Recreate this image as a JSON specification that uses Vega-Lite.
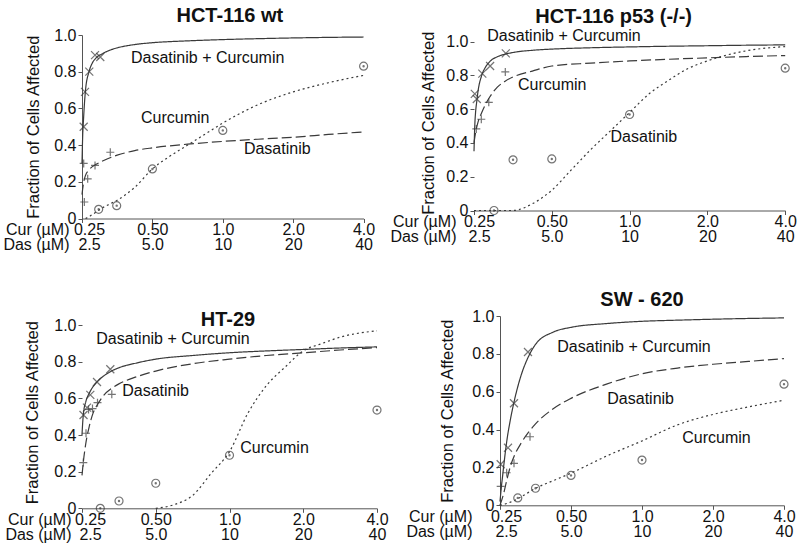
{
  "$schema": "https://vega.github.io/schema/vega-lite/v6.json",
  "background": "white",
  "padding": {"left": 2, "top": 6, "right": 0, "bottom": 0},
  "config": {
    "view": {"stroke": null},
    "font": "Liberation Sans",
    "title": {"font": "Liberation Sans", "fontSize": 20, "fontWeight": "bold", "color": "#111", "anchor": "middle", "baseline": "alphabetic"},
    "axis": {
      "grid": false, "domainColor": "#555", "tickColor": "#555", "tickSize": 4,
      "labelFont": "Liberation Sans", "labelFontSize": 16, "labelColor": "#111",
      "titleFont": "Liberation Sans", "titleFontSize": 16, "titleFontWeight": "normal", "titleColor": "#111",
      "labelOverlap": false, "labelFlush": false
    },
    "axisX": {"labelLineHeight": 15, "titleLineHeight": 15, "labelPadding": -1},
    "axisY": {"tickCount": 10, "labelPadding": 2, "titleFontSize": 16.5},
    "text": {"font": "Liberation Sans", "fontSize": 16, "color": "#111"}
  },
  "datasets": {
    "wt_curves": [
      {"series": "Dasatinib+Curcumin", "cur": 0.25, "fa": 0.30},
      {"series": "Dasatinib+Curcumin", "cur": 0.2517, "fa": 0.45},
      {"series": "Dasatinib+Curcumin", "cur": 0.2535, "fa": 0.53},
      {"series": "Dasatinib+Curcumin", "cur": 0.2562, "fa": 0.63},
      {"series": "Dasatinib+Curcumin", "cur": 0.2588, "fa": 0.70},
      {"series": "Dasatinib+Curcumin", "cur": 0.2679, "fa": 0.80},
      {"series": "Dasatinib+Curcumin", "cur": 0.2774, "fa": 0.85},
      {"series": "Dasatinib+Curcumin", "cur": 0.2872, "fa": 0.875},
      {"series": "Dasatinib+Curcumin", "cur": 0.3078, "fa": 0.90},
      {"series": "Dasatinib+Curcumin", "cur": 0.3299, "fa": 0.918},
      {"series": "Dasatinib+Curcumin", "cur": 0.3536, "fa": 0.93},
      {"series": "Dasatinib+Curcumin", "cur": 0.4204, "fa": 0.948},
      {"series": "Dasatinib+Curcumin", "cur": 0.5, "fa": 0.958},
      {"series": "Dasatinib+Curcumin", "cur": 0.7071, "fa": 0.968},
      {"series": "Dasatinib+Curcumin", "cur": 1, "fa": 0.975},
      {"series": "Dasatinib+Curcumin", "cur": 1.4142, "fa": 0.98},
      {"series": "Dasatinib+Curcumin", "cur": 2, "fa": 0.984},
      {"series": "Dasatinib+Curcumin", "cur": 2.8284, "fa": 0.987},
      {"series": "Dasatinib+Curcumin", "cur": 4, "fa": 0.989},
      {"series": "Dasatinib", "cur": 0.25, "fa": 0.13},
      {"series": "Dasatinib", "cur": 0.2535, "fa": 0.19},
      {"series": "Dasatinib", "cur": 0.2588, "fa": 0.235},
      {"series": "Dasatinib", "cur": 0.2679, "fa": 0.265},
      {"series": "Dasatinib", "cur": 0.2872, "fa": 0.295},
      {"series": "Dasatinib", "cur": 0.3078, "fa": 0.315},
      {"series": "Dasatinib", "cur": 0.3536, "fa": 0.345},
      {"series": "Dasatinib", "cur": 0.4204, "fa": 0.37},
      {"series": "Dasatinib", "cur": 0.5, "fa": 0.385},
      {"series": "Dasatinib", "cur": 0.7071, "fa": 0.405},
      {"series": "Dasatinib", "cur": 1, "fa": 0.42},
      {"series": "Dasatinib", "cur": 1.4142, "fa": 0.432},
      {"series": "Dasatinib", "cur": 2, "fa": 0.443},
      {"series": "Dasatinib", "cur": 2.8284, "fa": 0.458},
      {"series": "Dasatinib", "cur": 4, "fa": 0.472},
      {"series": "Curcumin", "cur": 0.2588, "fa": 0},
      {"series": "Curcumin", "cur": 0.2679, "fa": 0.01},
      {"series": "Curcumin", "cur": 0.2872, "fa": 0.035},
      {"series": "Curcumin", "cur": 0.3078, "fa": 0.06},
      {"series": "Curcumin", "cur": 0.3299, "fa": 0.08},
      {"series": "Curcumin", "cur": 0.3536, "fa": 0.10},
      {"series": "Curcumin", "cur": 0.4204, "fa": 0.17},
      {"series": "Curcumin", "cur": 0.5, "fa": 0.27},
      {"series": "Curcumin", "cur": 0.5946, "fa": 0.34},
      {"series": "Curcumin", "cur": 0.7071, "fa": 0.40},
      {"series": "Curcumin", "cur": 0.8409, "fa": 0.46},
      {"series": "Curcumin", "cur": 1, "fa": 0.52},
      {"series": "Curcumin", "cur": 1.4142, "fa": 0.62},
      {"series": "Curcumin", "cur": 2, "fa": 0.69},
      {"series": "Curcumin", "cur": 2.8284, "fa": 0.74},
      {"series": "Curcumin", "cur": 4, "fa": 0.78}
    ],
    "wt_points": [
      {"series": "Dasatinib+Curcumin", "cur": 0.2542, "fa": 0.50},
      {"series": "Dasatinib+Curcumin", "cur": 0.2575, "fa": 0.69},
      {"series": "Dasatinib+Curcumin", "cur": 0.2686, "fa": 0.80},
      {"series": "Dasatinib+Curcumin", "cur": 0.2842, "fa": 0.89},
      {"series": "Dasatinib+Curcumin", "cur": 0.2993, "fa": 0.88},
      {"series": "Dasatinib", "cur": 0.2542, "fa": 0.30},
      {"series": "Dasatinib", "cur": 0.2558, "fa": 0.09},
      {"series": "Dasatinib", "cur": 0.2644, "fa": 0.216},
      {"series": "Dasatinib", "cur": 0.2842, "fa": 0.289},
      {"series": "Dasatinib", "cur": 0.3303, "fa": 0.361},
      {"series": "Curcumin", "cur": 0.2946, "fa": 0.05},
      {"series": "Curcumin", "cur": 0.3518, "fa": 0.07},
      {"series": "Curcumin", "cur": 0.5, "fa": 0.27},
      {"series": "Curcumin", "cur": 1, "fa": 0.48},
      {"series": "Curcumin", "cur": 4, "fa": 0.83}
    ],
    "wt_labels": [
      {"text": "Dasatinib + Curcumin", "cur": 0.405, "fa": 0.877},
      {"text": "Curcumin", "cur": 0.447, "fa": 0.55},
      {"text": "Dasatinib", "cur": 1.231, "fa": 0.381}
    ],
    "p53_curves": [
      {"series": "Dasatinib+Curcumin", "cur": 0.25, "fa": 0.35},
      {"series": "Dasatinib+Curcumin", "cur": 0.2517, "fa": 0.5},
      {"series": "Dasatinib+Curcumin", "cur": 0.2535, "fa": 0.58},
      {"series": "Dasatinib+Curcumin", "cur": 0.2562, "fa": 0.645},
      {"series": "Dasatinib+Curcumin", "cur": 0.2588, "fa": 0.70},
      {"series": "Dasatinib+Curcumin", "cur": 0.2679, "fa": 0.80},
      {"series": "Dasatinib+Curcumin", "cur": 0.2774, "fa": 0.85},
      {"series": "Dasatinib+Curcumin", "cur": 0.2872, "fa": 0.88},
      {"series": "Dasatinib+Curcumin", "cur": 0.3078, "fa": 0.91},
      {"series": "Dasatinib+Curcumin", "cur": 0.3299, "fa": 0.925},
      {"series": "Dasatinib+Curcumin", "cur": 0.3536, "fa": 0.935},
      {"series": "Dasatinib+Curcumin", "cur": 0.4204, "fa": 0.948},
      {"series": "Dasatinib+Curcumin", "cur": 0.5, "fa": 0.955},
      {"series": "Dasatinib+Curcumin", "cur": 0.7071, "fa": 0.963},
      {"series": "Dasatinib+Curcumin", "cur": 1, "fa": 0.968},
      {"series": "Dasatinib+Curcumin", "cur": 1.4142, "fa": 0.972},
      {"series": "Dasatinib+Curcumin", "cur": 2, "fa": 0.975},
      {"series": "Dasatinib+Curcumin", "cur": 2.8284, "fa": 0.978},
      {"series": "Dasatinib+Curcumin", "cur": 4, "fa": 0.98},
      {"series": "Curcumin", "cur": 0.25, "fa": 0.40},
      {"series": "Curcumin", "cur": 0.2535, "fa": 0.46},
      {"series": "Curcumin", "cur": 0.2588, "fa": 0.52},
      {"series": "Curcumin", "cur": 0.2679, "fa": 0.58},
      {"series": "Curcumin", "cur": 0.2774, "fa": 0.63},
      {"series": "Curcumin", "cur": 0.2872, "fa": 0.67},
      {"series": "Curcumin", "cur": 0.3078, "fa": 0.73},
      {"series": "Curcumin", "cur": 0.3299, "fa": 0.765},
      {"series": "Curcumin", "cur": 0.3536, "fa": 0.79},
      {"series": "Curcumin", "cur": 0.4204, "fa": 0.825},
      {"series": "Curcumin", "cur": 0.5, "fa": 0.855},
      {"series": "Curcumin", "cur": 0.7071, "fa": 0.872},
      {"series": "Curcumin", "cur": 1, "fa": 0.885},
      {"series": "Curcumin", "cur": 1.4142, "fa": 0.895},
      {"series": "Curcumin", "cur": 2, "fa": 0.903},
      {"series": "Curcumin", "cur": 2.8284, "fa": 0.911},
      {"series": "Curcumin", "cur": 4, "fa": 0.917},
      {"series": "Dasatinib", "cur": 0.25, "fa": 0},
      {"series": "Dasatinib", "cur": 0.3536, "fa": 0},
      {"series": "Dasatinib", "cur": 0.4204, "fa": 0.04},
      {"series": "Dasatinib", "cur": 0.5, "fa": 0.12},
      {"series": "Dasatinib", "cur": 0.5946, "fa": 0.24},
      {"series": "Dasatinib", "cur": 0.7071, "fa": 0.36},
      {"series": "Dasatinib", "cur": 0.8409, "fa": 0.47},
      {"series": "Dasatinib", "cur": 1, "fa": 0.58},
      {"series": "Dasatinib", "cur": 1.1892, "fa": 0.69},
      {"series": "Dasatinib", "cur": 1.4142, "fa": 0.77},
      {"series": "Dasatinib", "cur": 1.6818, "fa": 0.84},
      {"series": "Dasatinib", "cur": 2, "fa": 0.885},
      {"series": "Dasatinib", "cur": 2.3784, "fa": 0.92},
      {"series": "Dasatinib", "cur": 2.8284, "fa": 0.945},
      {"series": "Dasatinib", "cur": 4, "fa": 0.97}
    ],
    "p53_points": [
      {"series": "Dasatinib+Curcumin", "cur": 0.2518, "fa": 0.69},
      {"series": "Dasatinib+Curcumin", "cur": 0.2563, "fa": 0.66},
      {"series": "Dasatinib+Curcumin", "cur": 0.2692, "fa": 0.81},
      {"series": "Dasatinib+Curcumin", "cur": 0.2886, "fa": 0.855},
      {"series": "Dasatinib+Curcumin", "cur": 0.3319, "fa": 0.93},
      {"series": "Curcumin", "cur": 0.2552, "fa": 0.483},
      {"series": "Curcumin", "cur": 0.2668, "fa": 0.54},
      {"series": "Curcumin", "cur": 0.2852, "fa": 0.64},
      {"series": "Curcumin", "cur": 0.3304, "fa": 0.82},
      {"series": "Dasatinib", "cur": 0.2988, "fa": 0.0},
      {"series": "Dasatinib", "cur": 0.354, "fa": 0.30},
      {"series": "Dasatinib", "cur": 0.5, "fa": 0.305},
      {"series": "Dasatinib", "cur": 1, "fa": 0.568},
      {"series": "Dasatinib", "cur": 4, "fa": 0.842}
    ],
    "p53_labels": [
      {"text": "Dasatinib + Curcumin", "cur": 0.2815, "fa": 1.035},
      {"text": "Curcumin", "cur": 0.370, "fa": 0.74},
      {"text": "Dasatinib", "cur": 0.844, "fa": 0.434}
    ],
    "ht29_curves": [
      {"series": "Dasatinib+Curcumin", "cur": 0.25, "fa": 0.40},
      {"series": "Dasatinib+Curcumin", "cur": 0.2517, "fa": 0.47},
      {"series": "Dasatinib+Curcumin", "cur": 0.2535, "fa": 0.52},
      {"series": "Dasatinib+Curcumin", "cur": 0.2588, "fa": 0.58},
      {"series": "Dasatinib+Curcumin", "cur": 0.2679, "fa": 0.63},
      {"series": "Dasatinib+Curcumin", "cur": 0.2774, "fa": 0.665},
      {"series": "Dasatinib+Curcumin", "cur": 0.2872, "fa": 0.69},
      {"series": "Dasatinib+Curcumin", "cur": 0.3078, "fa": 0.725},
      {"series": "Dasatinib+Curcumin", "cur": 0.3299, "fa": 0.75},
      {"series": "Dasatinib+Curcumin", "cur": 0.3536, "fa": 0.768},
      {"series": "Dasatinib+Curcumin", "cur": 0.4204, "fa": 0.795},
      {"series": "Dasatinib+Curcumin", "cur": 0.5, "fa": 0.815},
      {"series": "Dasatinib+Curcumin", "cur": 0.7071, "fa": 0.835},
      {"series": "Dasatinib+Curcumin", "cur": 1, "fa": 0.85},
      {"series": "Dasatinib+Curcumin", "cur": 1.4142, "fa": 0.86},
      {"series": "Dasatinib+Curcumin", "cur": 2, "fa": 0.868},
      {"series": "Dasatinib+Curcumin", "cur": 2.8284, "fa": 0.876},
      {"series": "Dasatinib+Curcumin", "cur": 4, "fa": 0.882},
      {"series": "Dasatinib", "cur": 0.25, "fa": 0.18},
      {"series": "Dasatinib", "cur": 0.2535, "fa": 0.26},
      {"series": "Dasatinib", "cur": 0.2588, "fa": 0.35},
      {"series": "Dasatinib", "cur": 0.2679, "fa": 0.45},
      {"series": "Dasatinib", "cur": 0.2774, "fa": 0.52},
      {"series": "Dasatinib", "cur": 0.2872, "fa": 0.56},
      {"series": "Dasatinib", "cur": 0.3078, "fa": 0.62},
      {"series": "Dasatinib", "cur": 0.3299, "fa": 0.655},
      {"series": "Dasatinib", "cur": 0.3536, "fa": 0.68},
      {"series": "Dasatinib", "cur": 0.4204, "fa": 0.72},
      {"series": "Dasatinib", "cur": 0.5, "fa": 0.75},
      {"series": "Dasatinib", "cur": 0.7071, "fa": 0.79},
      {"series": "Dasatinib", "cur": 1, "fa": 0.815},
      {"series": "Dasatinib", "cur": 1.4142, "fa": 0.835},
      {"series": "Dasatinib", "cur": 2, "fa": 0.85},
      {"series": "Dasatinib", "cur": 2.8284, "fa": 0.865},
      {"series": "Dasatinib", "cur": 4, "fa": 0.878},
      {"series": "Curcumin", "cur": 0.5, "fa": 0},
      {"series": "Curcumin", "cur": 0.5946, "fa": 0.02},
      {"series": "Curcumin", "cur": 0.7071, "fa": 0.07},
      {"series": "Curcumin", "cur": 0.8409, "fa": 0.19},
      {"series": "Curcumin", "cur": 1, "fa": 0.31},
      {"series": "Curcumin", "cur": 1.1892, "fa": 0.52},
      {"series": "Curcumin", "cur": 1.4142, "fa": 0.67},
      {"series": "Curcumin", "cur": 1.6818, "fa": 0.77},
      {"series": "Curcumin", "cur": 2, "fa": 0.86},
      {"series": "Curcumin", "cur": 2.3784, "fa": 0.90},
      {"series": "Curcumin", "cur": 2.8284, "fa": 0.935},
      {"series": "Curcumin", "cur": 4, "fa": 0.97}
    ],
    "ht29_points": [
      {"series": "Dasatinib+Curcumin", "cur": 0.2536, "fa": 0.51},
      {"series": "Dasatinib+Curcumin", "cur": 0.262, "fa": 0.55},
      {"series": "Dasatinib+Curcumin", "cur": 0.2703, "fa": 0.62},
      {"series": "Dasatinib+Curcumin", "cur": 0.2879, "fa": 0.69},
      {"series": "Dasatinib+Curcumin", "cur": 0.3262, "fa": 0.76},
      {"series": "Dasatinib", "cur": 0.2531, "fa": 0.25},
      {"series": "Dasatinib", "cur": 0.2596, "fa": 0.41},
      {"series": "Dasatinib", "cur": 0.2658, "fa": 0.54},
      {"series": "Dasatinib", "cur": 0.2759, "fa": 0.545},
      {"series": "Dasatinib", "cur": 0.2892, "fa": 0.577},
      {"series": "Dasatinib", "cur": 0.3308, "fa": 0.623},
      {"series": "Curcumin", "cur": 0.2969, "fa": 0.0},
      {"series": "Curcumin", "cur": 0.354, "fa": 0.04},
      {"series": "Curcumin", "cur": 0.5, "fa": 0.137},
      {"series": "Curcumin", "cur": 1, "fa": 0.29},
      {"series": "Curcumin", "cur": 4, "fa": 0.537}
    ],
    "ht29_labels": [
      {"text": "Dasatinib + Curcumin", "cur": 0.286, "fa": 0.923},
      {"text": "Dasatinib", "cur": 0.365, "fa": 0.641},
      {"text": "Curcumin", "cur": 1.107, "fa": 0.331}
    ],
    "sw_curves": [
      {"series": "Dasatinib+Curcumin", "cur": 0.25, "fa": 0.02},
      {"series": "Dasatinib+Curcumin", "cur": 0.2517, "fa": 0.06},
      {"series": "Dasatinib+Curcumin", "cur": 0.2535, "fa": 0.10},
      {"series": "Dasatinib+Curcumin", "cur": 0.2562, "fa": 0.15},
      {"series": "Dasatinib+Curcumin", "cur": 0.2588, "fa": 0.20},
      {"series": "Dasatinib+Curcumin", "cur": 0.2679, "fa": 0.35},
      {"series": "Dasatinib+Curcumin", "cur": 0.2774, "fa": 0.46},
      {"series": "Dasatinib+Curcumin", "cur": 0.2872, "fa": 0.55},
      {"series": "Dasatinib+Curcumin", "cur": 0.3078, "fa": 0.69},
      {"series": "Dasatinib+Curcumin", "cur": 0.3299, "fa": 0.785},
      {"series": "Dasatinib+Curcumin", "cur": 0.3536, "fa": 0.85},
      {"series": "Dasatinib+Curcumin", "cur": 0.4204, "fa": 0.915},
      {"series": "Dasatinib+Curcumin", "cur": 0.5, "fa": 0.94},
      {"series": "Dasatinib+Curcumin", "cur": 0.7071, "fa": 0.96},
      {"series": "Dasatinib+Curcumin", "cur": 1, "fa": 0.972},
      {"series": "Dasatinib+Curcumin", "cur": 1.4142, "fa": 0.978},
      {"series": "Dasatinib+Curcumin", "cur": 2, "fa": 0.983},
      {"series": "Dasatinib+Curcumin", "cur": 2.8284, "fa": 0.987},
      {"series": "Dasatinib+Curcumin", "cur": 4, "fa": 0.99},
      {"series": "Dasatinib", "cur": 0.25, "fa": 0},
      {"series": "Dasatinib", "cur": 0.2588, "fa": 0.06},
      {"series": "Dasatinib", "cur": 0.2679, "fa": 0.14},
      {"series": "Dasatinib", "cur": 0.2774, "fa": 0.21},
      {"series": "Dasatinib", "cur": 0.2872, "fa": 0.26},
      {"series": "Dasatinib", "cur": 0.3078, "fa": 0.33},
      {"series": "Dasatinib", "cur": 0.3299, "fa": 0.385},
      {"series": "Dasatinib", "cur": 0.3536, "fa": 0.43},
      {"series": "Dasatinib", "cur": 0.4204, "fa": 0.51},
      {"series": "Dasatinib", "cur": 0.5, "fa": 0.565},
      {"series": "Dasatinib", "cur": 0.7071, "fa": 0.64},
      {"series": "Dasatinib", "cur": 1, "fa": 0.695},
      {"series": "Dasatinib", "cur": 1.4142, "fa": 0.725},
      {"series": "Dasatinib", "cur": 2, "fa": 0.745},
      {"series": "Dasatinib", "cur": 2.8284, "fa": 0.76},
      {"series": "Dasatinib", "cur": 4, "fa": 0.775},
      {"series": "Curcumin", "cur": 0.25, "fa": 0},
      {"series": "Curcumin", "cur": 0.2679, "fa": 0.01},
      {"series": "Curcumin", "cur": 0.2872, "fa": 0.025},
      {"series": "Curcumin", "cur": 0.3078, "fa": 0.045},
      {"series": "Curcumin", "cur": 0.3536, "fa": 0.09},
      {"series": "Curcumin", "cur": 0.4204, "fa": 0.13},
      {"series": "Curcumin", "cur": 0.5, "fa": 0.17},
      {"series": "Curcumin", "cur": 0.7071, "fa": 0.26},
      {"series": "Curcumin", "cur": 1, "fa": 0.34},
      {"series": "Curcumin", "cur": 1.4142, "fa": 0.425},
      {"series": "Curcumin", "cur": 2, "fa": 0.48},
      {"series": "Curcumin", "cur": 2.8284, "fa": 0.52},
      {"series": "Curcumin", "cur": 4, "fa": 0.555}
    ],
    "sw_points": [
      {"series": "Dasatinib+Curcumin", "cur": 0.2517, "fa": 0.217},
      {"series": "Dasatinib+Curcumin", "cur": 0.2703, "fa": 0.304},
      {"series": "Dasatinib+Curcumin", "cur": 0.2866, "fa": 0.539},
      {"series": "Dasatinib+Curcumin", "cur": 0.3285, "fa": 0.81},
      {"series": "Dasatinib", "cur": 0.2517, "fa": 0.10},
      {"series": "Dasatinib", "cur": 0.2668, "fa": 0.172},
      {"series": "Dasatinib", "cur": 0.2866, "fa": 0.222},
      {"series": "Dasatinib", "cur": 0.3351, "fa": 0.362},
      {"series": "Curcumin", "cur": 0.2973, "fa": 0.039},
      {"series": "Curcumin", "cur": 0.3536, "fa": 0.09},
      {"series": "Curcumin", "cur": 0.5, "fa": 0.158},
      {"series": "Curcumin", "cur": 1, "fa": 0.239},
      {"series": "Curcumin", "cur": 4, "fa": 0.64}
    ],
    "sw_labels": [
      {"text": "Dasatinib + Curcumin", "cur": 0.4374, "fa": 0.836},
      {"text": "Dasatinib", "cur": 0.7127, "fa": 0.56},
      {"text": "Curcumin", "cur": 1.482, "fa": 0.354}
    ]
  },
  "spacing": 36,
  "resolve": {"scale": {"strokeDash": "independent", "shape": "independent"}},
  "vconcat": [
    {
      "spacing": 14,
      "resolve": {"scale": {"strokeDash": "independent", "shape": "independent"}},
      "hconcat": [
        {
          "width": 281.6, "height": 183.5,
          "title": {"text": "HCT-116 wt", "offset": 0.8, "dx": 7},
          "layer": [
            {
              "data": {"name": "wt_curves"},
              "mark": {"type": "line", "interpolate": "monotone", "color": "#3a3a3a", "strokeWidth": 1.2},
              "encoding": {
                "x": {"field": "cur", "type": "quantitative", "scale": {"type": "log", "base": 2, "domain": [0.25, 4], "nice": false},
                  "axis": {"values": [0.25, 0.5, 1, 2, 4], "labelExpr": "[datum.value == 0.25 ? '0.25' : datum.value == 0.5 ? '0.50' : format(datum.value, '.1f'), datum.value < 1 ? format(datum.value * 10, '.1f') : format(datum.value * 10, 'd')]",
                    "labelOffset": {"condition": {"test": "datum.value == 0.25", "value": 7}, "value": 0},
                    "title": ["Cur (µM)", "Das (µM)"], "titleX": -13, "titleY": 3, "titleAlign": "right", "titleBaseline": "top"}},
                "y": {"field": "fa", "type": "quantitative", "scale": {"domain": [0, 1], "nice": false},
                  "axis": {"values": [0, 0.2, 0.4, 0.6, 0.8, 1], "labelExpr": "datum.value == 0 ? '0' : format(datum.value, '.1f')", "title": "Fraction of Cells Affected", "titlePadding": 12}},
                "strokeDash": {"field": "series", "scale": {"domain": ["Dasatinib+Curcumin", "Dasatinib", "Curcumin"], "range": [[1, 0], [10, 4], [2, 3]]}, "legend": null}
              }
            },
            {
              "data": {"name": "wt_points"},
              "mark": {"type": "point", "filled": false, "color": "#3a3a3a", "size": 64, "strokeWidth": 1.2},
              "encoding": {
                "x": {"field": "cur", "type": "quantitative"},
                "y": {"field": "fa", "type": "quantitative"},
                "shape": {"field": "series", "scale": {"domain": ["Dasatinib+Curcumin", "Dasatinib", "Curcumin"], "range": ["M-1,-1L1,1M-1,1L1,-1", "M-1,0L1,0M0,-1L0,1", "M-1,0A1,1,0,1,0,1,0A1,1,0,1,0,-1,0ZM-0.15,0A0.15,0.15,0,1,0,0.15,0A0.15,0.15,0,1,0,-0.15,0Z"]}, "legend": null}
              }
            },
            {
              "data": {"name": "wt_labels"},
              "mark": {"type": "text", "align": "left", "baseline": "middle"},
              "encoding": {"x": {"field": "cur", "type": "quantitative"}, "y": {"field": "fa", "type": "quantitative"}, "text": {"field": "text"}}
            }
          ]
        },
        {
          "width": 311.2, "height": 175.5,
          "title": {"text": "HCT-116 p53 (-/-)", "offset": 0.2, "dx": -16},
          "layer": [
            {
              "data": {"name": "p53_curves"},
              "mark": {"type": "line", "interpolate": "monotone", "color": "#3a3a3a", "strokeWidth": 1.2},
              "encoding": {
                "x": {"field": "cur", "type": "quantitative", "scale": {"type": "log", "base": 2, "domain": [0.25, 4], "nice": false},
                  "axis": {"values": [0.25, 0.5, 1, 2, 4], "labelExpr": "[datum.value == 0.25 ? '0.25' : datum.value == 0.5 ? '0.50' : format(datum.value, '.1f'), datum.value < 1 ? format(datum.value * 10, '.1f') : format(datum.value * 10, 'd')]",
                    "labelOffset": {"condition": {"test": "datum.value == 0.25", "value": 5}, "value": 0},
                    "title": ["Cur (µM)", "Das (µM)"], "titleX": -18, "titleY": 3, "titleAlign": "right", "titleBaseline": "top"}},
                "y": {"field": "fa", "type": "quantitative", "scale": {"domain": [0, 1.0385], "nice": false},
                  "axis": {"values": [0, 0.2, 0.4, 0.6, 0.8, 1], "domain": false, "labelExpr": "datum.value == 0 ? '0' : format(datum.value, '.1f')", "title": "Fraction of Cells Affected", "titlePadding": 9}},
                "strokeDash": {"field": "series", "scale": {"domain": ["Dasatinib+Curcumin", "Curcumin", "Dasatinib"], "range": [[1, 0], [10, 4], [2, 3]]}, "legend": null}
              }
            },
            {
              "mark": {"type": "rule", "color": "#555", "strokeWidth": 1},
              "encoding": {"x": {"datum": 0.25}, "y": {"datum": 0}, "y2": {"datum": 1}}
            },
            {
              "data": {"name": "p53_points"},
              "mark": {"type": "point", "filled": false, "color": "#3a3a3a", "size": 64, "strokeWidth": 1.2},
              "encoding": {
                "x": {"field": "cur", "type": "quantitative"},
                "y": {"field": "fa", "type": "quantitative"},
                "shape": {"field": "series", "scale": {"domain": ["Dasatinib+Curcumin", "Curcumin", "Dasatinib"], "range": ["M-1,-1L1,1M-1,1L1,-1", "M-1,0L1,0M0,-1L0,1", "M-1,0A1,1,0,1,0,1,0A1,1,0,1,0,-1,0ZM-0.15,0A0.15,0.15,0,1,0,0.15,0A0.15,0.15,0,1,0,-0.15,0Z"]}, "legend": null}
              }
            },
            {
              "data": {"name": "p53_labels"},
              "mark": {"type": "text", "align": "left", "baseline": "middle"},
              "encoding": {"x": {"field": "cur", "type": "quantitative"}, "y": {"field": "fa", "type": "quantitative"}, "text": {"field": "text"}}
            }
          ]
        }
      ]
    },
    {
      "spacing": 16,
      "resolve": {"scale": {"strokeDash": "independent", "shape": "independent"}},
      "hconcat": [
        {
          "width": 295, "height": 192.3,
          "layer": [
            {
              "data": {"name": "ht29_curves"},
              "mark": {"type": "line", "interpolate": "monotone", "color": "#3a3a3a", "strokeWidth": 1.2},
              "encoding": {
                "x": {"field": "cur", "type": "quantitative", "scale": {"type": "log", "base": 2, "domain": [0.25, 4], "nice": false},
                  "axis": {"values": [0.25, 0.5, 1, 2, 4], "labelExpr": "[datum.value == 0.25 ? '0.25' : datum.value == 0.5 ? '0.50' : format(datum.value, '.1f'), datum.value < 1 ? format(datum.value * 10, '.1f') : format(datum.value * 10, 'd')]",
                    "labelOffset": {"condition": {"test": "datum.value == 0.25", "value": 8}, "value": 0},
                    "title": ["Cur (µM)", "Das (µM)"], "titleX": -11, "titleY": 3, "titleAlign": "right", "titleBaseline": "top"}},
                "y": {"field": "fa", "type": "quantitative", "scale": {"domain": [0, 1.0508], "nice": false},
                  "axis": {"values": [0, 0.2, 0.4, 0.6, 0.8, 1], "domain": false, "labelExpr": "datum.value == 0 ? '0' : format(datum.value, '.1f')", "title": "Fraction of Cells Affected", "titlePadding": 13}},
                "strokeDash": {"field": "series", "scale": {"domain": ["Dasatinib+Curcumin", "Dasatinib", "Curcumin"], "range": [[1, 0], [10, 4], [2, 3]]}, "legend": null}
              }
            },
            {
              "mark": {"type": "rule", "color": "#555", "strokeWidth": 1},
              "encoding": {"x": {"datum": 0.25}, "y": {"datum": 0}, "y2": {"datum": 1}}
            },
            {
              "data": {"name": "ht29_points"},
              "mark": {"type": "point", "filled": false, "color": "#3a3a3a", "size": 64, "strokeWidth": 1.2},
              "encoding": {
                "x": {"field": "cur", "type": "quantitative"},
                "y": {"field": "fa", "type": "quantitative"},
                "shape": {"field": "series", "scale": {"domain": ["Dasatinib+Curcumin", "Dasatinib", "Curcumin"], "range": ["M-1,-1L1,1M-1,1L1,-1", "M-1,0L1,0M0,-1L0,1", "M-1,0A1,1,0,1,0,1,0A1,1,0,1,0,-1,0ZM-0.15,0A0.15,0.15,0,1,0,0.15,0A0.15,0.15,0,1,0,-0.15,0Z"]}, "legend": null}
              }
            },
            {
              "data": {"name": "ht29_labels"},
              "mark": {"type": "text", "align": "left", "baseline": "middle"},
              "encoding": {"x": {"field": "cur", "type": "quantitative"}, "y": {"field": "fa", "type": "quantitative"}, "text": {"field": "text"}}
            },
            {
              "data": {"values": [{"text": "HT-29", "cur": 0.986, "fa": 0.996}]},
              "mark": {"type": "text", "align": "center", "baseline": "alphabetic", "fontSize": 20, "fontWeight": "bold"},
              "encoding": {"x": {"field": "cur", "type": "quantitative"}, "y": {"field": "fa", "type": "quantitative"}, "text": {"field": "text"}}
            }
          ]
        },
        {
          "width": 284, "height": 189.3,
          "title": {"text": "SW - 620", "offset": -1.7, "dx": 0},
          "layer": [
            {
              "data": {"name": "sw_curves"},
              "mark": {"type": "line", "interpolate": "monotone", "color": "#3a3a3a", "strokeWidth": 1.2},
              "encoding": {
                "x": {"field": "cur", "type": "quantitative", "scale": {"type": "log", "base": 2, "domain": [0.25, 4], "nice": false},
                  "axis": {"values": [0.25, 0.5, 1, 2, 4], "labelExpr": "[datum.value == 0.25 ? '0.25' : datum.value == 0.5 ? '0.50' : format(datum.value, '.1f'), datum.value < 1 ? format(datum.value * 10, '.1f') : format(datum.value * 10, 'd')]",
                    "labelOffset": {"condition": {"test": "datum.value == 0.25", "value": 6}, "value": 0},
                    "title": ["Cur (µM)", "Das (µM)"], "titleX": -28, "titleY": 3, "titleAlign": "right", "titleBaseline": "top"}},
                "y": {"field": "fa", "type": "quantitative", "scale": {"domain": [0, 1], "nice": false},
                  "axis": {"values": [0, 0.2, 0.4, 0.6, 0.8, 1], "labelExpr": "datum.value == 0 ? '0' : format(datum.value, '.1f')", "title": "Fraction of Cells Affected", "titlePadding": 16}},
                "strokeDash": {"field": "series", "scale": {"domain": ["Dasatinib+Curcumin", "Dasatinib", "Curcumin"], "range": [[1, 0], [10, 4], [2, 3]]}, "legend": null}
              }
            },
            {
              "data": {"name": "sw_points"},
              "mark": {"type": "point", "filled": false, "color": "#3a3a3a", "size": 64, "strokeWidth": 1.2},
              "encoding": {
                "x": {"field": "cur", "type": "quantitative"},
                "y": {"field": "fa", "type": "quantitative"},
                "shape": {"field": "series", "scale": {"domain": ["Dasatinib+Curcumin", "Dasatinib", "Curcumin"], "range": ["M-1,-1L1,1M-1,1L1,-1", "M-1,0L1,0M0,-1L0,1", "M-1,0A1,1,0,1,0,1,0A1,1,0,1,0,-1,0ZM-0.15,0A0.15,0.15,0,1,0,0.15,0A0.15,0.15,0,1,0,-0.15,0Z"]}, "legend": null}
              }
            },
            {
              "data": {"name": "sw_labels"},
              "mark": {"type": "text", "align": "left", "baseline": "middle"},
              "encoding": {"x": {"field": "cur", "type": "quantitative"}, "y": {"field": "fa", "type": "quantitative"}, "text": {"field": "text"}}
            }
          ]
        }
      ]
    }
  ]
}
